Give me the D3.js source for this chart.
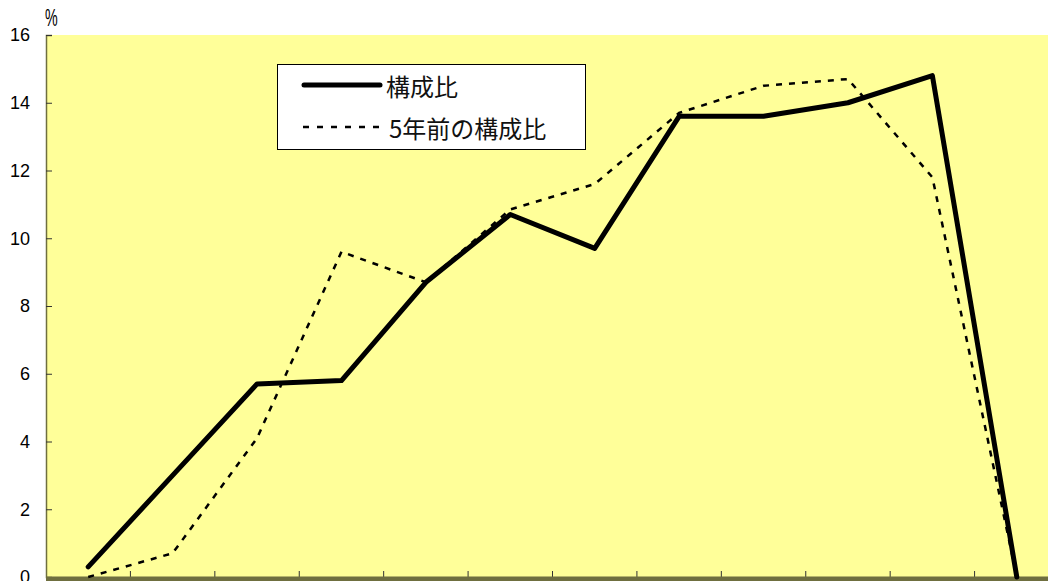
<!DOCTYPE html>
<html>
<head>
<meta charset="utf-8">
<script src="https://cdn.jsdelivr.net/npm/d3@7"></script>
<style>
  body { margin: 0; background: #fff; }
  svg { display: block; }
</style>
</head>
<body>
<svg id="chart"></svg>
<script>
const width = 1048;
const height = 581;
const margin = {top: 35, left: 46};
const plotW = 1013;   // plot runs past the right edge of the window
const plotH = 542;

// categories (labels fall below the visible window)
const categories = ["c1", "c2", "c3", "c4", "c5", "c6", "c7", "c8", "c9", "c10", "c11", "c12"];
// 構成比
const current = [0.3, 3.0, 5.7, 5.8, 8.7, 10.7, 9.7, 13.6, 13.6, 14.0, 14.8, 0];
// 5年前の構成比
const previous = [0, 0.7, 4.1, 9.6, 8.7, 10.85, 11.6, 13.7, 14.5, 14.7, 11.8, 0];
const yTicks = [0, 2, 4, 6, 8, 10, 12, 14, 16];
const seriesNames = ["構成比", "5年前の構成比"];

let svg = d3.select("#chart")
            .attr("width", width)
            .attr("height", height);

let x = d3.scaleBand()
          .domain(categories)
          .range([margin.left, margin.left + plotW]);

let y = d3.scaleLinear()
          .domain([0, 16])
          .range([margin.top + plotH, margin.top]);

// plot area background
svg.append("rect")
   .attr("x", margin.left)
   .attr("y", margin.top)
   .attr("width", plotW)
   .attr("height", plotH)
   .attr("fill", "#ffff99");

const axisColor = "#6f6f3f";

// y axis, ticks point inward
let yAxis = svg.append("g")
   .attr("transform", "translate(" + margin.left + ",0)")
   .call(d3.axisRight(y).tickValues(yTicks).tickSize(6).tickFormat(""));
yAxis.select(".domain").attr("stroke", axisColor).attr("stroke-width", 1.5);
yAxis.selectAll(".tick line").attr("stroke", "#333");

svg.append("g")
   .selectAll("text")
   .data(yTicks)
   .enter()
   .append("text")
   .attr("x", 30)
   .attr("y", d => y(d))
   .attr("dy", "0.36em")
   .attr("text-anchor", "end")
   .style("font-family", "Liberation Sans, Arial, sans-serif")
   .style("font-size", "18px")
   .text(d => d);

// unit label, narrow like the original
svg.append("text")
   .attr("transform", "translate(45,26) scale(0.62,1)")
   .style("font-family", "Liberation Sans, Arial, sans-serif")
   .style("font-size", "23px")
   .attr("fill", "#000")
   .text("%");

// x axis, ticks at band edges pointing up
let xEdges = categories.slice(1).map(c => x(c));
let xAxis = svg.append("g")
   .attr("transform", "translate(0," + (margin.top + plotH) + ")");
xAxis.selectAll("line")
   .data(xEdges)
   .enter()
   .append("line")
   .attr("x1", d => d)
   .attr("x2", d => d)
   .attr("y1", 0)
   .attr("y2", -6)
   .attr("stroke", "#333");
xAxis.append("rect")
   .attr("x", margin.left)
   .attr("y", -0.5)
   .attr("width", plotW)
   .attr("height", 6)
   .attr("fill", axisColor);

let line = d3.line()
   .x((d, i) => x(categories[i]) + x.bandwidth() / 2)
   .y(d => y(d));

svg.append("path")
   .datum(previous)
   .attr("d", line)
   .attr("fill", "none")
   .attr("stroke", "#000")
   .attr("stroke-width", 2.5)
   .attr("stroke-dasharray", "6,7");

svg.append("path")
   .datum(current)
   .attr("d", line)
   .attr("fill", "none")
   .attr("stroke", "#000")
   .attr("stroke-width", 5)
   .attr("stroke-linejoin", "round")
   .attr("stroke-linecap", "round");

// legend
let legend = svg.append("g");
legend.append("rect")
   .attr("x", 277.5)
   .attr("y", 64.5)
   .attr("width", 308)
   .attr("height", 85)
   .attr("fill", "#fff")
   .attr("stroke", "#000")
   .attr("stroke-width", 1);

legend.append("line")
   .attr("x1", 304).attr("x2", 380)
   .attr("y1", 85).attr("y2", 85)
   .attr("stroke", "#000")
   .attr("stroke-width", 5)
   .attr("stroke-linecap", "round");

legend.append("line")
   .attr("x1", 303).attr("x2", 381)
   .attr("y1", 127).attr("y2", 127)
   .attr("stroke", "#000")
   .attr("stroke-width", 2.5)
   .attr("stroke-dasharray", "6,8");

legend.selectAll("text")
   .data(seriesNames)
   .enter()
   .append("text")
   .attr("x", (d, i) => i === 0 ? 386 : 389)
   .attr("y", (d, i) => i === 0 ? 96 : 138)
   .style("font-family", "Noto Sans CJK JP, sans-serif")
   .style("font-size", "24px")
   .attr("fill", "#111")
   .text(d => d);
</script>
</body>
</html>
